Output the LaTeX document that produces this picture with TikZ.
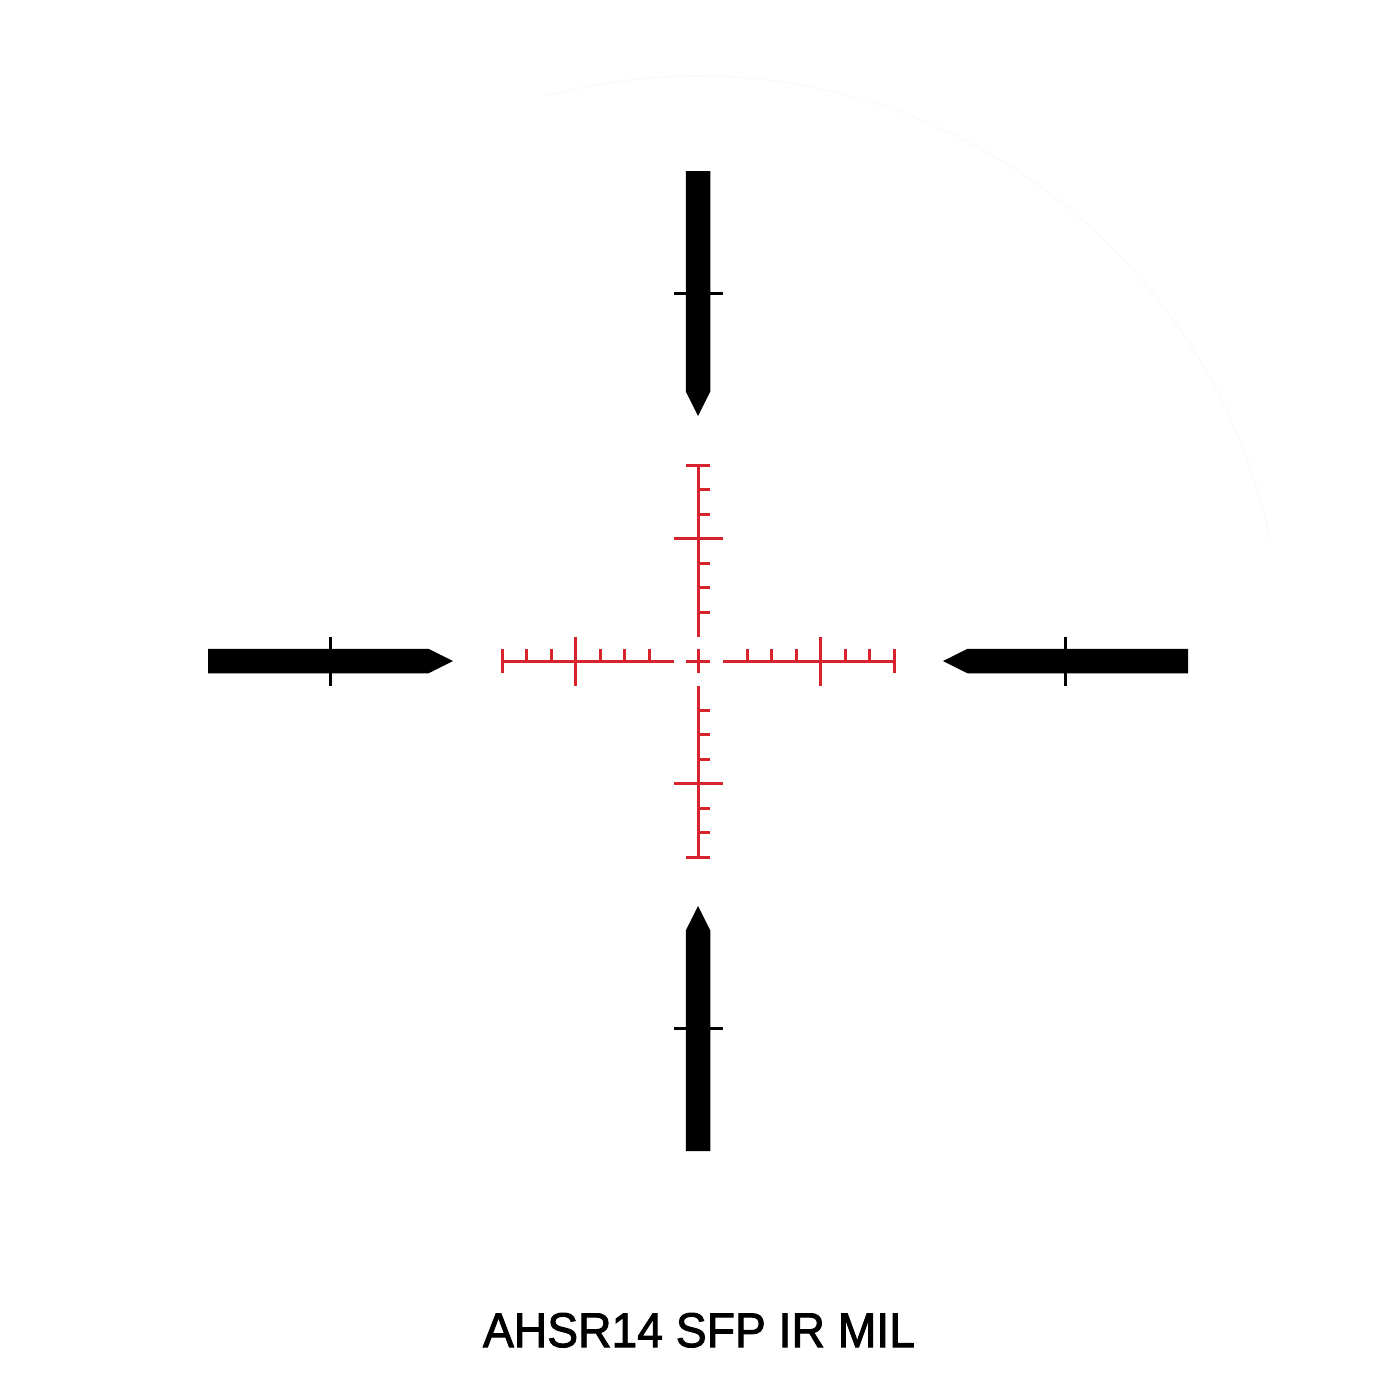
\documentclass[tikz,border=0pt]{standalone}
\usepackage{fontspec}
\setmainfont{Liberation Sans}[FakeBold=2]
\definecolor{retred}{RGB}{215,35,45}
\begin{document}
\begin{tikzpicture}[x=1pt,y=-1pt,
  redline/.style={draw=retred,line width=3pt},
  postshape/.style={fill=black},
  postbar/.style={draw=black,line width=2.5pt},
  faint/.style={draw=black!2,line width=1.2pt}]
\useasboundingbox (0,0) rectangle (1400,1400);
\fill[white] (0,0) rectangle (1400,1400);
\coordinate (c) at (698,661);
% faint lens edge
\draw[faint] (c) ++(255:585) arc[start angle=255,end angle=348,radius=585];
\begin{scope}[shift={(c)},x=24.5pt,y=-24.5pt]
  % red reticle
  \draw[redline] (-8,0) -- (-1,0);
  \draw[redline] (1,0) -- (8,0);
  \draw[redline] (0,-8) -- (0,-1);
  \draw[redline] (0,1) -- (0,8);
  \draw[redline] (-0.5,0) -- (0.5,0);
  \draw[redline] (0,-0.5) -- (0,0.5);
  \foreach \s in {-1,1}{
    \draw[redline] (8*\s,-0.5) -- (8*\s,0.5);
    \draw[redline] (-0.5,8*\s) -- (0.5,8*\s);
    \draw[redline] (5*\s,-1) -- (5*\s,1);
    \draw[redline] (-1,5*\s) -- (1,5*\s);
    \foreach \k in {2,3,4,6,7}{
      \draw[redline] (\k*\s,0) -- (\k*\s,-0.5);
      \draw[redline] (0,\k*\s) -- (0.5,\k*\s);
    }
  }
  % black posts
  \foreach \a in {0,90,180,270}{
    \begin{scope}[rotate=\a]
      \fill[postshape] (-0.5,-20) -- (0.5,-20) -- (0.5,-11) -- (0,-10) -- (-0.5,-11) -- cycle;
      \draw[postbar] (-1,-15) -- (1,-15);
    \end{scope}
  }
\end{scope}
\node[anchor=base, inner sep=0pt] (label) at (699,1347)
  {\resizebox{432pt}{34pt}{\fontsize{47.5}{50}\selectfont AHSR14 SFP IR MIL}};
\end{tikzpicture}
\end{document}
